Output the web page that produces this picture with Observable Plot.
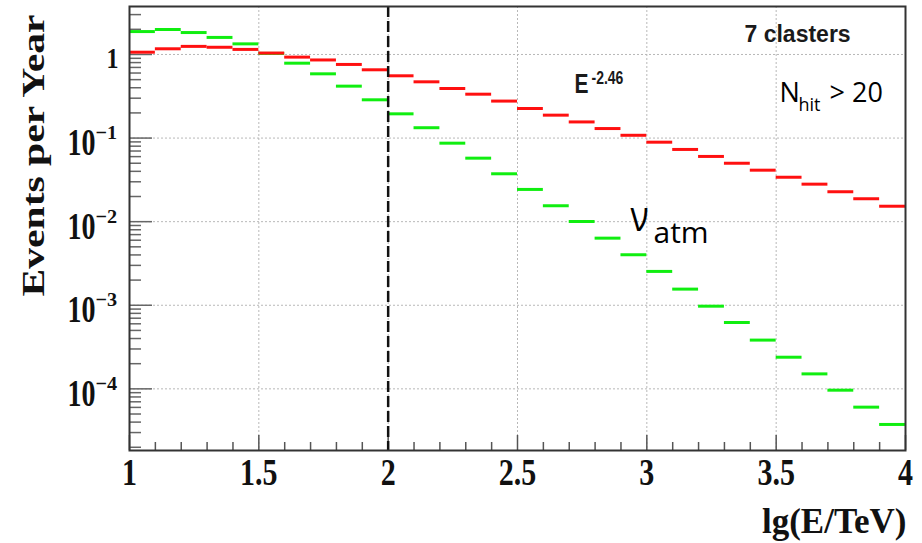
<!DOCTYPE html>
<html>
<head>
<meta charset="utf-8">
<script src="https://cdn.jsdelivr.net/npm/d3@7"></script>
<script src="https://cdn.jsdelivr.net/npm/@observablehq/plot@0.6"></script>
<style>
  html, body { margin: 0; padding: 0; background: #fff; }
  svg { display: block; }
</style>
</head>
<body>
<script>
// Lower edges of the lg(E/TeV) bins (bin width 0.1)
const binLow = [1.0, 1.1, 1.2, 1.3, 1.4, 1.5, 1.6, 1.7, 1.8, 1.9,
                2.0, 2.1, 2.2, 2.3, 2.4, 2.5, 2.6, 2.7, 2.8, 2.9,
                3.0, 3.1, 3.2, 3.3, 3.4, 3.5, 3.6, 3.7, 3.8, 3.9];
const binWidth = 0.1;

// Astrophysical flux E^-2.46, events per year per bin
const signal = [1.065, 1.17, 1.25, 1.22, 1.15, 1.04, 0.93, 0.86, 0.76, 0.656,
                0.556, 0.471, 0.392, 0.335, 0.277, 0.226, 0.188, 0.156, 0.130, 0.108,
                0.0893, 0.0731, 0.0603, 0.0500, 0.0413, 0.0340, 0.0281, 0.0228, 0.0188, 0.0153];

// Atmospheric neutrinos, events per year per bin
const atmNu = [1.88, 1.99, 1.83, 1.60, 1.34, 1.03, 0.787, 0.587, 0.418, 0.287,
               0.195, 0.133, 0.0869, 0.0575, 0.0374, 0.0243, 0.0155, 0.01005, 0.00635, 0.00402,
               0.00254, 0.00156, 0.000975, 0.000622, 0.000383, 0.000239, 0.000151, 0.0000964, 0.0000604, 0.0000375];

// Energy cut, lg(E/TeV)
const energyCut = 2;

// Axis ticks and labels
const xMajor = [1, 1.5, 2, 2.5, 3, 3.5, 4];
const xGrid = [1.5, 2, 2.5, 3, 3.5];
const yDecades = [1, 0.1, 0.01, 0.001, 0.0001];
const yPowerTicks = [0.1, 0.01, 0.001, 0.0001];
const yExponents = ["\u22121", "\u22122", "\u22123", "\u22124"];
const minorDecades = [1e-5, 1e-4, 1e-3, 1e-2, 1e-1, 1];
const minorSteps = [2, 3, 4, 5, 6, 7, 8, 9];

const W = 922, H = 543;
const margin = {top: 6, right: 17, bottom: 93, left: 129};
const frameW = W - margin.left - margin.right;
const frameH = H - margin.top - margin.bottom;
const yDomain = [1.83e-5, 3.75];

const serif = "'Liberation Serif', 'Times New Roman', Times, serif";
const sans = "'Liberation Sans', Arial, Helvetica, sans-serif";
const office = "'Open Sans', 'Noto Sans', sans-serif";

const bins = (values) => binLow.map((x0, i) => ({x0, x1: x0 + binWidth, v: values[i]}));
const xMinor = binLow.filter((v) => !xMajor.includes(v));
const yMinor = minorDecades
  .flatMap((d) => minorSteps.map((m) => m * d))
  .filter((v) => v > yDomain[0] && v < yDomain[1]);

const red = "#ff1010";
const green = "#10ee10";
const tickColor = "#555";
const gridStyle = {stroke: "#b8b8b8", strokeWidth: 1, strokeDasharray: "2,2"};

const chart = Plot.plot({
  width: W,
  height: H,
  marginTop: margin.top,
  marginRight: margin.right,
  marginBottom: margin.bottom,
  marginLeft: margin.left,
  style: {background: "#fff", color: "#111"},
  x: {domain: [1, 4]},
  y: {type: "log", domain: yDomain},
  marks: [
    // dotted grid
    Plot.ruleX(xGrid, {x: (d) => d, ...gridStyle}),
    Plot.ruleY(yDecades, {y: (d) => d, ...gridStyle}),
    // inward ticks
    Plot.ruleX(xMinor, {x: (d) => d, insetTop: frameH - 8, stroke: tickColor, strokeWidth: 1.5}),
    Plot.ruleX(xMajor, {x: (d) => d, insetTop: frameH - 15, stroke: tickColor, strokeWidth: 1.5}),
    Plot.ruleY(yMinor, {y: (d) => d, insetRight: frameW - 12, stroke: "#666", strokeWidth: 1.5}),
    Plot.ruleY(yDecades, {y: (d) => d, insetRight: frameW - 23, stroke: "#666", strokeWidth: 1.5}),
    // histograms
    Plot.ruleY(bins(atmNu), {x1: "x0", x2: "x1", y: "v", stroke: green, strokeWidth: 3}),
    Plot.ruleY(bins(signal), {x1: "x0", x2: "x1", y: "v", stroke: red, strokeWidth: 3}),
    // energy cut
    Plot.ruleX([energyCut], {x: (d) => d, stroke: "#111", strokeWidth: 2.5, strokeDasharray: "11,4"}),
    Plot.frame({stroke: "#333", strokeWidth: 2}),
    // x axis labels
    Plot.axisX(xMajor, {
      tickSize: 0, tickPadding: 8, label: null,
      tickFormat: (d) => String(d),
      fontSize: 30, fontFamily: serif, fontWeight: "bold", fill: "#111"
    }),
    // y axis labels: 10 with exponent
    Plot.axisY(yPowerTicks, {
      tickSize: 0, tickPadding: 34, dy: 5, label: null,
      tickFormat: () => "10",
      fontSize: 28, fontFamily: serif, fontWeight: "bold", fill: "#111"
    }),
    Plot.text(yPowerTicks, {
      y: (d) => d, text: (d, i) => yExponents[i],
      frameAnchor: "left", dx: -34, dy: 1, textAnchor: "start", lineAnchor: "bottom",
      fontSize: 15, fontFamily: serif, fontWeight: "bold", fill: "#111",
      ariaDescription: "y exponents"
    }),
    Plot.text([1], {
      y: (d) => d, text: () => "1",
      frameAnchor: "left", dx: -11, dy: 14, textAnchor: "end", lineAnchor: "bottom",
      fontSize: 24, fontFamily: serif, fontWeight: "bold", fill: "#111",
      ariaDescription: "y unit label"
    }),
    // axis titles
    Plot.text(["lg(E/TeV)"], {
      text: (d) => d, frameAnchor: "bottom-right", dx: 1, dy: 82,
      textAnchor: "end", lineAnchor: "bottom",
      fontSize: 35, fontFamily: serif, fontWeight: "bold", fill: "#111",
      ariaDescription: "x title"
    }),
    Plot.text(["Events per Year"], {
      text: (d) => d, frameAnchor: "top-left", dx: -86, dy: 149, rotate: -90,
      textAnchor: "middle", lineAnchor: "bottom",
      fontSize: 32, fontFamily: serif, fontWeight: "bold", fill: "#111",
      ariaDescription: "y title"
    }),
    // annotations
    Plot.text(["7 clasters"], {
      text: (d) => d, frameAnchor: "top-left", dx: 615, dy: 35.5,
      textAnchor: "start", lineAnchor: "bottom",
      fontSize: 23, fontFamily: sans, fontWeight: "bold", fill: "#1a1a1a"
    }),
    Plot.text(["E"], {
      text: (d) => d, frameAnchor: "top-left", dx: 445, dy: 86,
      textAnchor: "start", lineAnchor: "bottom",
      fontSize: 21, fontFamily: sans, fontWeight: "bold", fill: "#1a1a1a",
      ariaDescription: "flux base"
    }),
    Plot.text(["-2.46"], {
      text: (d) => d, frameAnchor: "top-left", dx: 462, dy: 77,
      textAnchor: "start", lineAnchor: "bottom",
      fontSize: 14, fontFamily: sans, fontWeight: "bold", fill: "#1a1a1a",
      ariaDescription: "flux index"
    }),
    Plot.text(["N"], {
      text: (d) => d, frameAnchor: "top-left", dx: 650, dy: 95.7,
      textAnchor: "start", lineAnchor: "bottom",
      fontSize: 27, fontFamily: office, fill: "#000"
    }),
    Plot.text(["hit"], {
      text: (d) => d, frameAnchor: "top-left", dx: 669, dy: 104,
      textAnchor: "start", lineAnchor: "bottom",
      fontSize: 18, fontFamily: office, fill: "#000"
    }),
    Plot.text(["> 20"], {
      text: (d) => d, frameAnchor: "top-left", dx: 700, dy: 95.7,
      textAnchor: "start", lineAnchor: "bottom",
      fontSize: 27, fontFamily: office, fill: "#000"
    }),
    Plot.text(["\u03bd"], {
      text: (d) => d, frameAnchor: "top-left", dx: 501, dy: 224,
      textAnchor: "start", lineAnchor: "bottom",
      fontSize: 42, fontFamily: office, fill: "#000",
      ariaDescription: "nu symbol"
    }),
    Plot.text(["atm"], {
      text: (d) => d, frameAnchor: "top-left", dx: 524, dy: 236,
      textAnchor: "start", lineAnchor: "bottom",
      fontSize: 30, fontFamily: office, fill: "#000"
    })
  ]
});

// Glyph proportions of the ROOT fonts: stretch selected text groups about their anchors
const stretch = [
  ['g[aria-label="x-axis tick label"]', 1, 1.25],
  ['g[aria-label="y-axis tick label"]', 1, 1.35],
  ['g[aria-description="y exponents"]', 1.35, 1.3],
  ['g[aria-description="y unit label"]', 1, 1.2],
  ['g[aria-description="y title"]', 1.3, 1],
  ['g[aria-description="flux base"]', 1, 1.3],
  ['g[aria-description="flux index"]', 1, 1.3],
  ['g[aria-description="nu symbol"]', 0.8, 1]
];
for (const [selector, sx, sy] of stretch) {
  d3.select(chart).selectAll(`${selector} text`).each(function () {
    const t = this.getAttribute("transform") || "";
    this.setAttribute("transform", `${t} scale(${sx},${sy})`);
  });
}

document.body.appendChild(chart);
</script>
</body>
</html>
